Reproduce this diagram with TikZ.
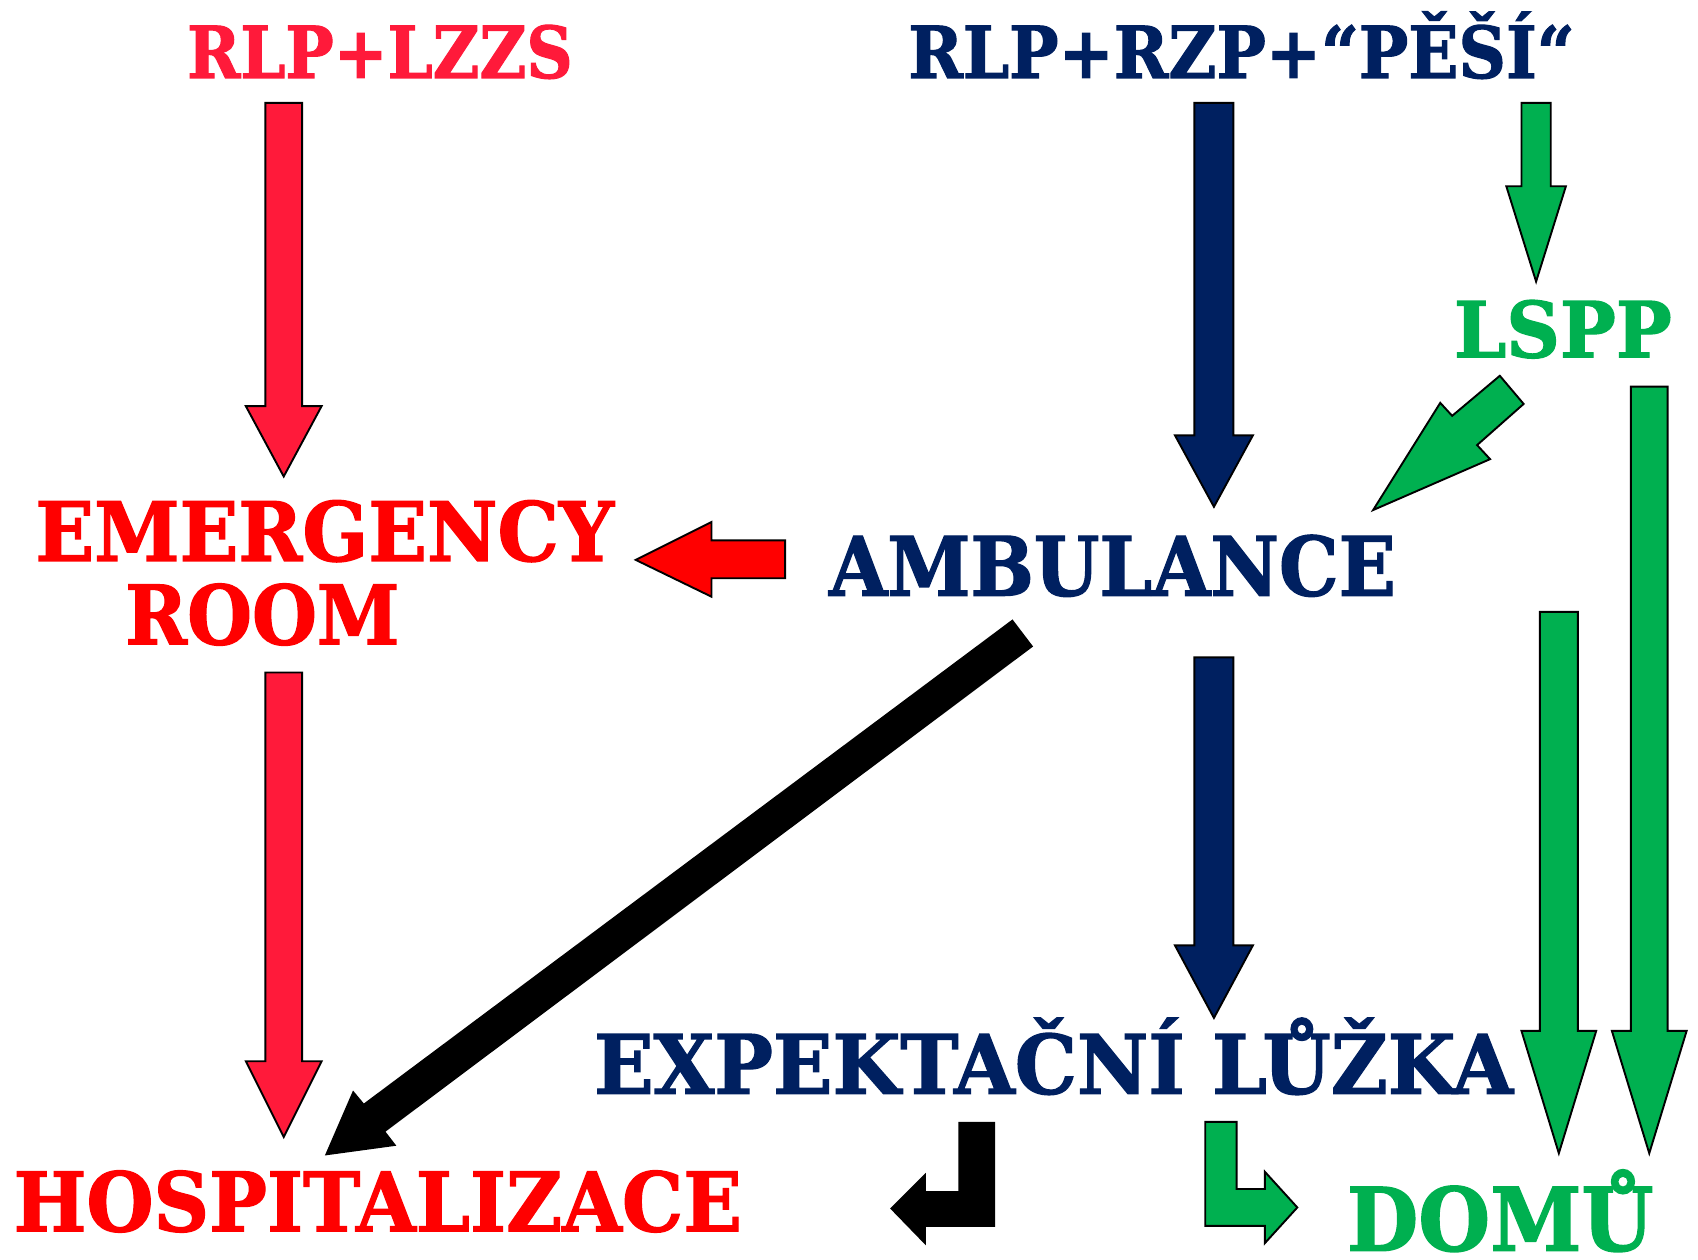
\documentclass[tikz,border=0pt]{standalone}
\usepackage{fontspec}
\usepackage{graphicx}
\setmainfont{DejaVu Serif}[BoldFeatures={FakeBold=1.6}]
\definecolor{crim}{RGB}{255,26,58}
\definecolor{pred}{RGB}{255,0,0}
\definecolor{navy}{RGB}{0,32,96}
\definecolor{pgreen}{RGB}{0,176,80}
\newcommand\fitw[2]{\resizebox{#1}{\height}{#2}}
% vertical block arrow: cx, top y, head base y, tip y, half shaft, half head
\newcommand\vblock[7]{%
  \filldraw[#7] (#1-#5,#2) -- (#1+#5,#2) -- (#1+#5,#3) -- (#1+#6,#3) -- (#1,#4)
     -- (#1-#6,#3) -- (#1-#5,#3) -- cycle;}
\begin{document}
\begin{tikzpicture}[x=0.01cm,y=-0.01cm,
  lbl/.style={inner sep=0pt,anchor=base west,font=\bfseries},
  arr/.style={draw=black,line width=0.5pt,line join=miter}]
\useasboundingbox (0,0) rectangle (1568,1163);
% texts
\node[lbl,text=crim] (src1) at (172,72) {\fontsize{18.8}{20}\selectfont\fitw{3.56cm}{RLP+LZZS}};
\node[lbl,text=navy] (src2) at (838,72) {\fontsize{18.8}{20}\selectfont\fitw{6.15cm}{RLP+RZP+“PĚŠÍ“}};
\node[lbl,text=pgreen] (lspp) at (1342,330) {\fontsize{20.3}{22}\selectfont\fitw{2.01cm}{LSPP}};
\node[lbl,text=pred] (er1) at (32,518) {\fontsize{21.5}{23}\selectfont\fitw{5.34cm}{EMERGENCY}};
\node[lbl,text=pred] (er2) at (115,595) {\fontsize{21.5}{23}\selectfont\fitw{2.53cm}{ROOM}};
\node[lbl,text=navy] (amb) at (765,550) {\fontsize{21.5}{23}\selectfont\fitw{5.23cm}{AMBULANCE}};
\node[lbl,text=navy] (exp) at (548,1010) {\fontsize{21.5}{23}\selectfont\fitw{8.48cm}{EXPEKTAČNÍ LŮŽKA}};
\node[lbl,text=pred] (hosp) at (12,1137) {\fontsize{21.5}{23}\selectfont\fitw{6.72cm}{HOSPITALIZACE}};
\node[lbl,text=pgreen] (domu) at (1243,1155) {\fontsize{23}{25}\selectfont\fitw{2.83cm}{DOMŮ}};
% vertical arrows
\vblock{262}{95}{375}{440}{17}{35}{arr,fill=crim}
\vblock{262}{621}{980}{1050}{17}{35}{arr,fill=crim}
\vblock{1121}{95}{402}{468}{18}{36}{arr,fill=navy}
\vblock{1121}{607}{873}{940}{18}{36}{arr,fill=navy}
\vblock{1418.5}{95}{172}{260}{13.5}{27.5}{arr,fill=pgreen}
\vblock{1523}{357}{952}{1065}{17}{34.5}{arr,fill=pgreen}
\vblock{1439.5}{565}{952}{1065}{17.5}{34.5}{arr,fill=pgreen}
% green diagonal LSPP -> AMBULANCE
\filldraw[arr,fill=pgreen] (1268,471) -- (1330,372) -- (1341,384) -- (1385,347)
  -- (1407,373) -- (1364,411) -- (1376,424) -- cycle;
% red left arrow AMBULANCE -> EMERGENCY
\filldraw[arr,fill=pred] (587,517) -- (657,482) -- (657,499) -- (725,499)
  -- (725,534) -- (657,534) -- (657,551) -- cycle;
% black diagonal AMBULANCE -> HOSPITALIZACE
\fill[black] (935,572) -- (954,597) -- (356,1045) -- (366,1058) -- (300,1067)
  -- (326,1007) -- (336,1019) -- cycle;
% black bent arrow
\fill[black] (885,1036) -- (919,1036) -- (919,1133) -- (855,1133) -- (855,1150)
  -- (822,1116) -- (855,1083) -- (855,1100) -- (885,1100) -- cycle;
% green bent arrow
\filldraw[arr,fill=pgreen] (1113,1036) -- (1142,1036) -- (1142,1098) -- (1168,1098)
  -- (1168,1082) -- (1198,1115) -- (1168,1148) -- (1168,1132) -- (1113,1132) -- cycle;
\end{tikzpicture}
\end{document}
